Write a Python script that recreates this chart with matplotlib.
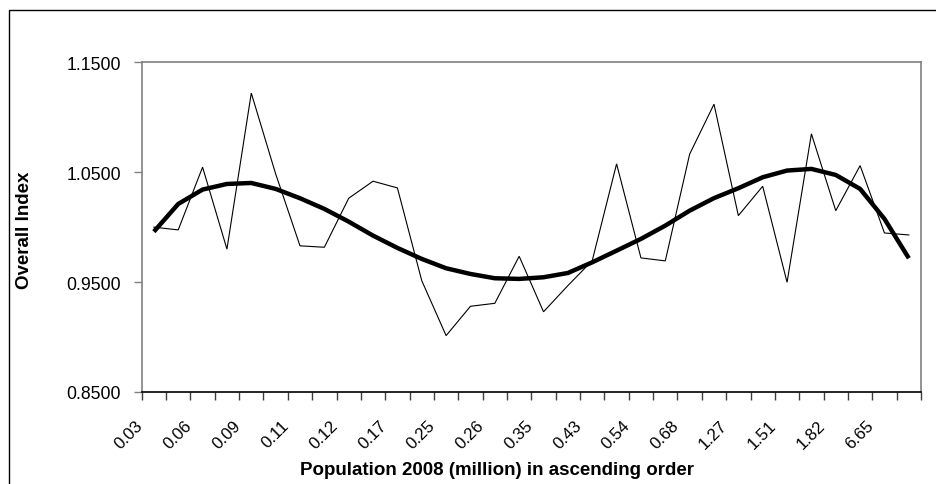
import matplotlib
matplotlib.use("Agg")
import matplotlib.pyplot as plt
import matplotlib.transforms as mtransforms
from matplotlib.patches import Rectangle
import numpy as np

plt.rcParams['font.family'] = ['Liberation Sans', 'DejaVu Sans']

# Tick labels (population 2008, million) shown on every other category
tick_labels = ["0.03", "0.06", "0.09", "0.11", "0.12", "0.17", "0.25", "0.26",
               "0.35", "0.43", "0.54", "0.68", "1.27", "1.51", "1.82", "6.65"]

# Overall Index per city (thin line)
overall_index = [1.0000, 0.9975, 1.0546, 0.9800, 1.1220, 1.0485, 0.9830, 0.9817,
                 1.0263, 1.0418, 1.0357, 0.9513, 0.9013, 0.9280, 0.9307, 0.9735,
                 0.9230, 0.9468, 0.9695, 1.0576, 0.9720, 0.9693, 1.0664, 1.1119,
                 1.0105, 1.0372, 0.9498, 1.0849, 1.0150, 1.0560, 0.9947, 0.9929]

# Trend (thick line)
trend = [0.9959, 1.0211, 1.0342, 1.0393, 1.0402, 1.0348, 1.0263, 1.0166,
         1.0050, 0.9923, 0.9811, 0.9711, 0.9626, 0.9574, 0.9535, 0.9529,
         0.9544, 0.9583, 0.9680, 0.9786, 0.9893, 1.0014, 1.0150, 1.0264,
         1.0354, 1.0454, 1.0515, 1.0530, 1.0475, 1.0348, 1.0075, 0.9717]

y_ticks = [0.85, 0.95, 1.05, 1.15]

W, H, DPI = 937, 485, 100
fig = plt.figure(figsize=(W / DPI, H / DPI), dpi=DPI)
fig.patch.set_facecolor("white")

# outer chart border (left/top visible)
fig.add_artist(Rectangle((9 / W, -0.2), 1.5, 1 - 10.7 / H + 0.2,
                         transform=fig.transFigure, fill=False,
                         edgecolor="black", linewidth=1.0))

L, R, T, B = 141.7, 921, 63.3, 393
ax = fig.add_axes([L / W, 1 - B / H, (R - L) / W, (B - T) / H])

n = len(overall_index)
x = np.arange(n)
ax.plot(x, overall_index, color="black", linewidth=0.8, solid_joinstyle="miter")
ax.plot(x, trend, color="black", linewidth=3.2, solid_capstyle="butt")

ax.set_xlim(-0.5, n - 0.5)
ax.set_ylim(0.85, 1.15)

# y axis
ax.set_yticks(y_ticks)
ax.set_yticklabels([f"{v:.4f}" for v in y_ticks])
ax.tick_params(axis="y", direction="out", length=6, width=1, color="#808080",
               pad=9, labelsize=12.7)

# x axis: marks at category boundaries, labels every other category
ax.set_xticks(np.arange(n + 1) - 0.5, minor=True)
ax.set_xticks(np.arange(0, n, 2))
ax.set_xticklabels(tick_labels, rotation=45, ha="right", va="top")
ax.tick_params(axis="x", which="major", length=0, pad=18, labelsize=12.2)
ax.tick_params(axis="x", which="minor", direction="out", length=6, width=1,
               color="#404040")
off = mtransforms.ScaledTranslation(-8 / DPI, 0, fig.dpi_scale_trans)
for lab in ax.get_xticklabels():
    lab.set_transform(lab.get_transform() + off)

for s in ["top", "right", "left"]:
    ax.spines[s].set_color("#808080")
    ax.spines[s].set_linewidth(1.2)
ax.spines["bottom"].set_color("black")
ax.spines["bottom"].set_linewidth(1.2)

fig.text(497 / W, 1 - 471 / H, "Population 2008 (million) in ascending order",
         ha="center", va="center", fontsize=13.5, fontweight="bold")
fig.text(25 / W, 1 - 230 / H, "Overall Index", ha="center", va="center",
         rotation=90, fontsize=13.5, fontweight="bold")

fig.savefig("out.png", dpi=DPI, facecolor="white")
